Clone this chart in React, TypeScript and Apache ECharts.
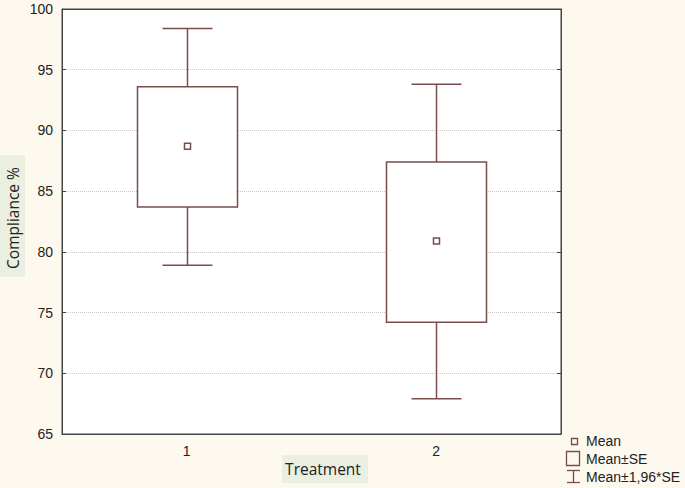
import React, { useEffect, useRef } from "react";
import * as echarts from "echarts";

const categories = ["1", "2"];
const means = [88.7, 80.9];
const seLow = [83.7, 74.2];
const seHigh = [93.6, 87.4];
const ciLow = [78.9, 67.9];
const ciHigh = [98.4, 93.8];
const yTicks = { min: 65, max: 100, interval: 5 };
const legendLabels = ["Mean", "Mean±SE", "Mean±1,96*SE"];
const xTitle = "Treatment";
const yTitle = "Compliance %";

const BOX = "#7a4c4c";
const BG = "#fef9ee";
const TITLE_BG = "#ebefe0";

export default function App() {
  const ref = useRef<HTMLDivElement>(null);
  useEffect(() => {
    if (!ref.current) return;
    const chart = echarts.init(ref.current, null, { renderer: "svg" });
    const data = categories.map((c, i) => [i, means[i], seLow[i], seHigh[i], ciLow[i], ciHigh[i]]);
    const labelFont = { fontFamily: "Liberation Sans, Arial, sans-serif", fontSize: 14, color: "#222" };
    const legendFont = { fontFamily: "Liberation Sans, Arial, sans-serif", fontSize: 14, fill: "#222", verticalAlign: "middle" };
    const titleFont = { fontFamily: "Open Sans, sans-serif", fontSize: 15.5, fill: "#222", align: "center", verticalAlign: "middle" };
    chart.setOption({
      animation: false,
      backgroundColor: BG,
      grid: {
        left: 62, right: 124, top: 9, bottom: 54,
        outerBoundsMode: "none", containLabel: false,
        show: true, backgroundColor: "#fff", borderColor: "#444", borderWidth: 1,
      },
      xAxis: [
        {
          type: "category",
          data: categories,
          boundaryGap: true,
          axisLine: { lineStyle: { color: "#444" } },
          axisTick: { inside: true, length: 4, alignWithLabel: true, lineStyle: { color: "#444" } },
          axisLabel: { ...labelFont, margin: 10 },
        },
        {
          type: "category",
          data: categories,
          position: "top",
          boundaryGap: true,
          axisLine: { lineStyle: { color: "#444" } },
          axisTick: { inside: true, length: 4, alignWithLabel: true, lineStyle: { color: "#444" } },
          axisLabel: { show: false },
        },
      ],
      yAxis: [
        {
          type: "value",
          min: yTicks.min,
          max: yTicks.max,
          interval: yTicks.interval,
          axisLine: { show: true, lineStyle: { color: "#444" } },
          axisTick: { show: true, inside: true, length: 4, lineStyle: { color: "#444" } },
          axisLabel: { ...labelFont, margin: 9 },
          splitLine: { show: true, lineStyle: { color: "#c8c8c8", type: [1, 1], width: 1 } },
        },
        {
          type: "value",
          position: "right",
          min: yTicks.min,
          max: yTicks.max,
          interval: yTicks.interval,
          axisLine: { show: true, lineStyle: { color: "#444" } },
          axisTick: { show: true, inside: true, length: 4, lineStyle: { color: "#444" } },
          axisLabel: { show: false },
          splitLine: { show: false },
        },
      ],
      series: [
        {
          type: "custom",
          xAxisIndex: 0,
          yAxisIndex: 0,
          data,
          renderItem: (params: any, api: any) => {
            const x = api.value(0);
            const c = api.coord([x, api.value(1)]);
            const sl = api.coord([x, api.value(2)]);
            const sh = api.coord([x, api.value(3)]);
            const cl = api.coord([x, api.value(4)]);
            const ch = api.coord([x, api.value(5)]);
            const bw = 100;
            const cw = 50;
            const cx = Math.round(c[0]) + 0.5;
            const st = { stroke: BOX, lineWidth: 1.5, fill: "none" };
            return {
              type: "group",
              children: [
                { type: "line", shape: { x1: cx, y1: ch[1], x2: cx, y2: sh[1] }, style: st },
                { type: "line", shape: { x1: cx, y1: sl[1], x2: cx, y2: cl[1] }, style: st },
                { type: "line", shape: { x1: cx - cw / 2, y1: ch[1], x2: cx + cw / 2, y2: ch[1] }, style: st },
                { type: "line", shape: { x1: cx - cw / 2, y1: cl[1], x2: cx + cw / 2, y2: cl[1] }, style: st },
                { type: "rect", shape: { x: cx - bw / 2, y: sh[1], width: bw, height: sl[1] - sh[1] }, style: { ...st, fill: "#fff" } },
                { type: "rect", shape: { x: cx - 3, y: c[1] - 3, width: 6, height: 6 }, style: { stroke: BOX, lineWidth: 1.5, fill: "#fff" } },
              ],
            };
          },
        },
      ],
      graphic: [
        { type: "rect", shape: { x: 0, y: 155, width: 25, height: 122 }, style: { fill: TITLE_BG } },
        { type: "text", x: 12.5, y: 218, rotation: Math.PI / 2, style: { text: yTitle, ...titleFont } },
        { type: "rect", shape: { x: 282, y: 455, width: 86, height: 28 }, style: { fill: TITLE_BG } },
        { type: "text", x: 323, y: 469, style: { text: xTitle, ...titleFont } },
        { type: "rect", shape: { x: 571.5, y: 438.5, width: 6, height: 6 }, style: { stroke: BOX, lineWidth: 1.3, fill: "none" } },
        { type: "text", x: 586, y: 441, style: { text: legendLabels[0], ...legendFont } },
        { type: "rect", shape: { x: 566.5, y: 451.5, width: 13, height: 14 }, style: { stroke: BOX, lineWidth: 1.3, fill: "none" } },
        { type: "text", x: 586, y: 459, style: { text: legendLabels[1], ...legendFont } },
        { type: "line", shape: { x1: 567, y1: 470.5, x2: 580, y2: 470.5 }, style: { stroke: BOX, lineWidth: 1.3 } },
        { type: "line", shape: { x1: 573.5, y1: 470.5, x2: 573.5, y2: 482.5 }, style: { stroke: BOX, lineWidth: 1.3 } },
        { type: "line", shape: { x1: 567, y1: 482.5, x2: 580, y2: 482.5 }, style: { stroke: BOX, lineWidth: 1.3 } },
        { type: "text", x: 586, y: 477, style: { text: legendLabels[2], ...legendFont } },
      ],
    });
    return () => chart.dispose();
  }, []);
  return <div ref={ref} style={{ width: 685, height: 488, position: "fixed", left: 0, top: 0 }} />;
}
